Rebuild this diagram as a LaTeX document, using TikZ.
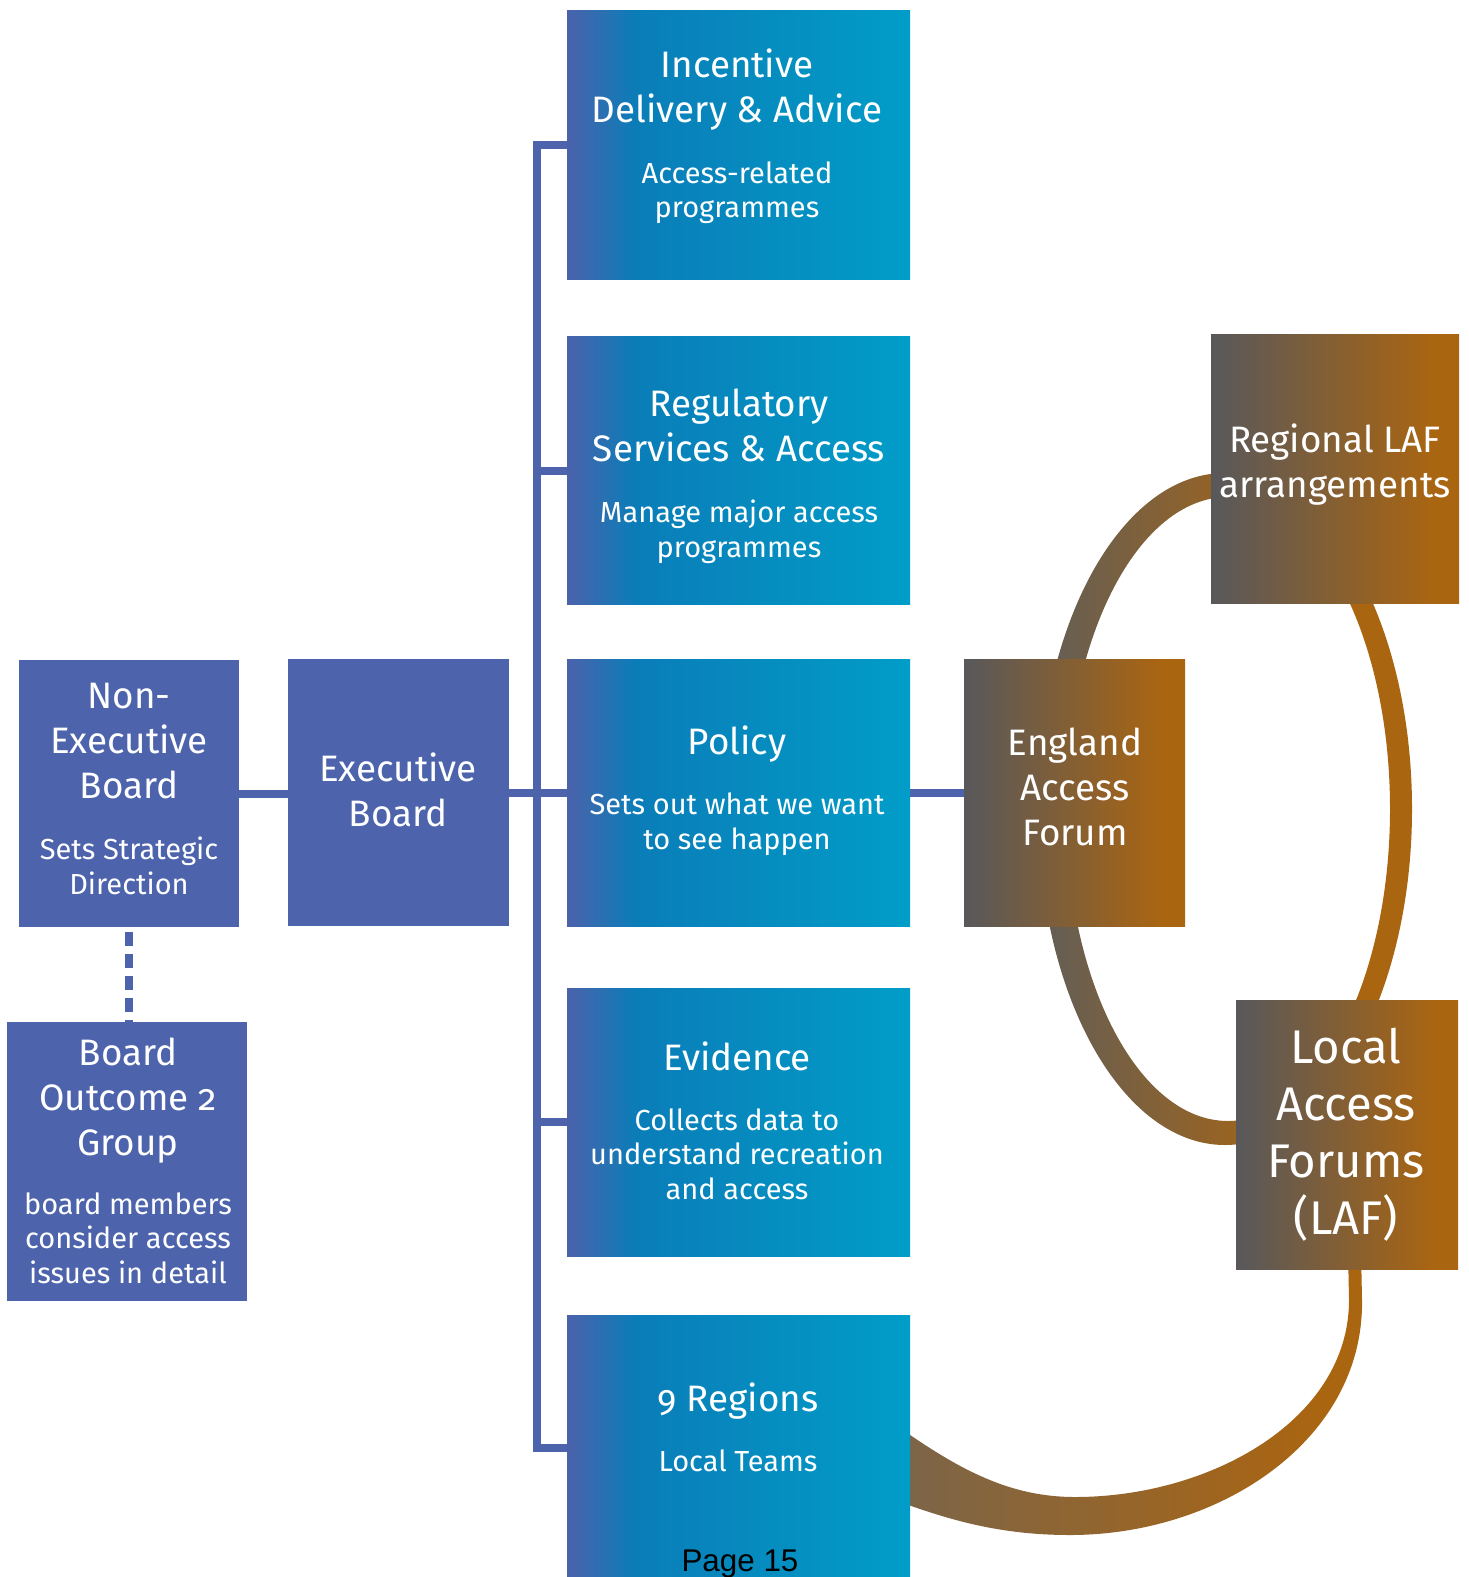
\documentclass[tikz,border=0pt]{standalone}
\usepackage{fontspec}
\setmainfont{Fira Sans}[Numbers=OldStyle]
\newfontfamily\pagefont{Liberation Sans}
\usetikzlibrary{calc}
\definecolor{nblue}{HTML}{4D64AD}
\definecolor{bA}{HTML}{4B62AB}
\definecolor{bB}{HTML}{0A7DB8}
\definecolor{bC}{HTML}{019DC8}
\definecolor{gA}{HTML}{58585B}
\definecolor{gB}{HTML}{AA6511}
\definecolor{rA}{HTML}{625E57}
\definecolor{cA}{HTML}{7C6549}
\pgfdeclarehorizontalshading{blueshade}{100bp}{color(0bp)=(bA); color(25bp)=(bA); color(35bp)=(bB); color(75bp)=(bC); color(100bp)=(bC)}
\pgfdeclarehorizontalshading{brownshade}{100bp}{color(0bp)=(gA); color(25bp)=(gA); color(70bp)=(gB); color(100bp)=(gB)}
\pgfdeclarehorizontalshading{ringshade}{100bp}{color(0bp)=(rA); color(25bp)=(rA); color(60bp)=(gB); color(100bp)=(gB)}
\pgfdeclarehorizontalshading{curveshade}{100bp}{color(0bp)=(cA); color(25bp)=(cA); color(70bp)=(gB); color(100bp)=(gB)}
\tikzset{
  bluebox/.style={rectangle, inner sep=0pt, shade, shading=blueshade, minimum width=171.5pt},
  brownbox/.style={rectangle, inner sep=0pt, shade, shading=brownshade},
  navybox/.style={rectangle, inner sep=0pt, fill=nblue},
  ttl/.style={anchor=base, align=center, text=white, inner sep=0pt, font=\fontsize{18.4}{22.5}\selectfont},
  sub/.style={anchor=base, align=center, text=white, inner sep=0pt, font=\fontsize{14.5}{17.25}\selectfont},
  bigttl/.style={anchor=base, align=center, text=white, inner sep=0pt, font=\fontsize{23.6}{28.5}\selectfont},
  conn/.style={draw=nblue, line width=4pt},
  dconn/.style={draw=nblue, line width=4pt, dash pattern=on 7pt off 4pt, dash phase=8.5pt}
}
\begin{document}
\begin{tikzpicture}[x=0.5pt, y=-0.5pt]
\useasboundingbox (0,0) rectangle (1468,1577);
\fill[white] (0,0) rectangle (1468,1577);

% ring behind the brown boxes
\shade[shading=ringshade, even odd rule]
  (1225,809) ellipse [x radius=93.5pt, y radius=168pt]
  (1228,809) ellipse [x radius=81pt, y radius=156pt];

% bottom sweeping curve
\shade[shading=curveshade]
  (1361,1250) -- (1362,1300) .. controls (1364,1440) and (1220,1535) .. (1070,1535)
  .. controls (1000,1535) and (950,1520) .. (900,1502)
  -- (900,1428) .. controls (960,1470) and (1010,1497) .. (1075,1497)
  .. controls (1210,1497) and (1349,1420) .. (1349,1300) -- (1348,1250) -- cycle;

% boxes
\node[bluebox, minimum height=134.5pt] (inc) at (738.5,145.5) {};
\node[bluebox, minimum height=133.5pt] (reg) at (738.5,470.5) {};
\node[bluebox, minimum height=133.5pt] (pol) at (738.5,792.5) {};
\node[bluebox, minimum height=134pt]   (evi) at (738.5,1122) {};
\node[bluebox, minimum height=133pt]   (rgn) at (738.5,1448) {};
\node[navybox, minimum width=110pt, minimum height=133.5pt] (ne) at (129,793.5) {};
\node[navybox, minimum width=110.5pt, minimum height=133.5pt] (ex) at (398.5,792.5) {};
\node[navybox, minimum width=120pt, minimum height=139.5pt] (bo) at (127,1161.5) {};
\node[brownbox, minimum width=110.5pt, minimum height=133.5pt] (eaf) at (1074.5,792.5) {};
\node[brownbox, minimum width=124pt, minimum height=134pt] (rlaf) at (1335,469) {};
\node[brownbox, minimum width=111pt, minimum height=134.5pt] (laf) at (1347,1134.5) {};

% connectors
\coordinate (barBot) at (537,1448);
\draw[conn] (inc.west) -| (barBot) -- (rgn.west);
\draw[conn] (reg.west) -- (reg.west -| barBot);
\draw[conn] (evi.west) -- (evi.west -| barBot);
\draw[conn] (ex.east) -- (pol.west);
\draw[conn] (ne.east) -- (ne.east -| ex.west);
\draw[conn] (pol.east) -- (eaf.west);
\draw[dconn] (ne.south) -- (ne.south |- bo.north);

% texts (anchor base = baseline of the last line)
\node[ttl] (tinc) at (737,123) {Incentive\\Delivery \& Advice};
\node[sub] (sinc) at (737,218) {Access-related\\programmes};
\node[ttl] (treg) at (739,461) {Regulatory\\Services \& Access};
\node[sub] (sreg) at (739,557) {Manage major access\\programmes};
\node[ttl] (tpol) at (737,754) {Policy};
\node[sub] (spol) at (737,849) {Sets out what we want\\to see happen};
\node[ttl] (tevi) at (737,1070) {Evidence};
\node[sub] (sevi) at (737,1199) {Collects data to\\understand recreation\\and access};
\node[ttl] (trgn) at (738,1411) {9 Regions};
\node[sub] (srgn) at (738,1471) {Local Teams};
\node[ttl] (tne) at (129,798) {Non-\\Executive\\Board};
\node[sub] (sne) at (129,894) {Sets Strategic\\Direction};
\node[ttl] (tex) at (398,826) {Executive\\Board};
\node[ttl] (tbo) at (128,1155) {Board\\Outcome 2\\Group};
\node[sub] (sbo) at (128,1283) {board members\\consider access\\issues in detail};
\node[ttl] (teaf) at (1075,845) {England\\Access\\Forum};
\node[ttl] (trlaf) at (1335,497) {Regional LAF\\arrangements};
\node[bigttl] (tlaf) at (1346,1234) {Local\\Access\\Forums\\(LAF)};
\node[anchor=base, inner sep=0pt, font=\pagefont\fontsize{15.7}{18}\selectfont] (page) at (740,1571) {Page 15};
\end{tikzpicture}
\end{document}
